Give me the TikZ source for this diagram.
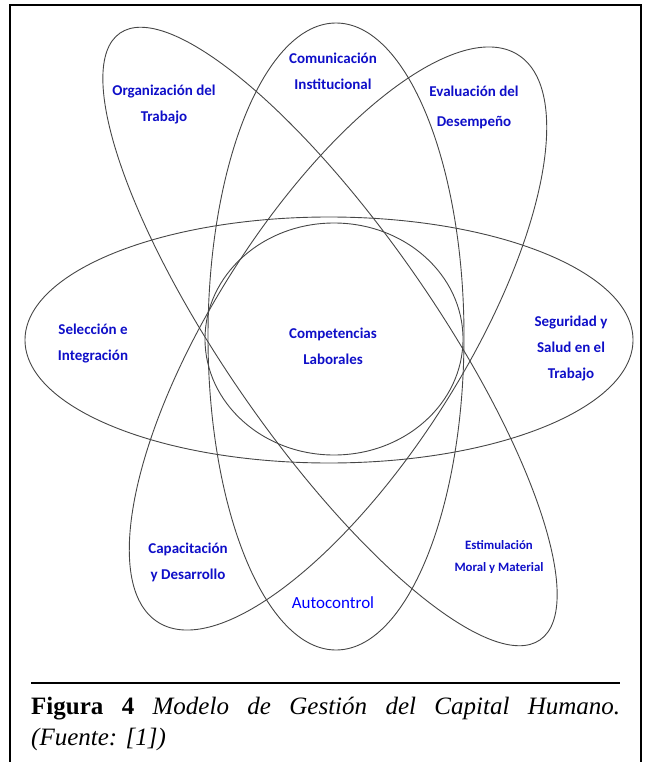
\documentclass[tikz,border=0pt]{standalone}
\usepackage{fontspec}
\setmainfont{Liberation Serif}
\newfontfamily\lblfont{Carlito}
\definecolor{lblue}{RGB}{15,15,200}
\definecolor{orbit}{RGB}{70,70,70}

\begin{document}
\begin{tikzpicture}[x=1pt, y=-1pt,
    orb/.style={draw=orbit, line width=0.9pt},
    lbl/.style={text=lblue, align=center, inner sep=0pt,
        font=\lblfont\bfseries\fontsize{15}{26}\selectfont},
]
\useasboundingbox (0,0) rectangle (650,762);

% frame
\draw[line width=2pt] (10,762) |- (641,5) -- (641,762);

% horizontal orbit and core
\draw[orb] (329,340) ellipse [x radius=304pt, y radius=123pt];
\draw[orb] (334,339) ellipse [x radius=129pt, y radius=116pt];

% long orbits
\draw[orb, rotate around={-55.3:(330,336.5)}]
 (330,336.5) ellipse [x radius=369pt, y radius=105pt];
\draw[orb, rotate around={57.6:(338,338.5)}]
 (338,338.5) ellipse [x radius=336pt, y radius=125pt];
\draw[orb] (336,336.5) ellipse [x radius=128pt, y radius=313.5pt];

% labels
\node[lbl] (org) at (164,105) {Organización del\\Trabajo};
\node[lbl] (com) at (333,71.5) {Comunicación\\Institucional};
\node[lbl, font=\lblfont\bfseries\fontsize{15}{30}\selectfont] (eva) at (474,107) {Evaluación del\\Desempeño};
\node[lbl] (sel) at (93,344) {Selección e\\Integración};
\node[lbl] (comp) at (333,346.5) {Competencias\\Laborales};
\node[lbl] (seg) at (571,349) {Seguridad y\\Salud en el\\Trabajo};
\node[lbl] (cap) at (188,562) {Capacitación\\y Desarrollo};
\node[lbl, text=blue, font=\lblfont\fontsize{17}{20}\selectfont] (auto) at (333,603) {Autocontrol};
\node[lbl, font=\lblfont\bfseries\fontsize{12.8}{22}\selectfont] (est) at (499,557) {Estimulación\\Moral y Material};

% caption
\draw[line width=1.5pt] (31,683) -- (620,683);
\node[anchor=north west, inner sep=0pt, text width=589pt, align=justify,
    font=\fontsize{25}{31}\selectfont] (fig) at (31,697)
 {\textbf{Figura 4} \textit{Modelo de Gestión del Capital Humano.\linebreak (Fuente: [1])}};
\end{tikzpicture}
\end{document}
